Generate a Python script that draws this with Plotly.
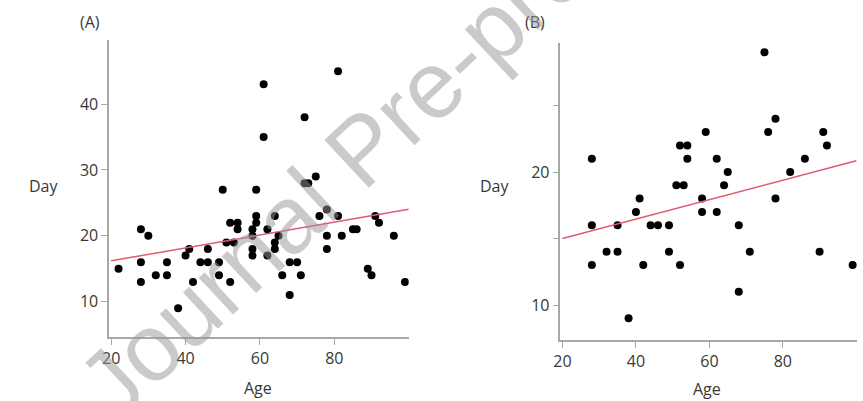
import plotly.graph_objects as go

# Panel (A): age vs. day, all patients
age_a = [22, 28, 30, 28, 28, 32, 35, 35, 38, 40, 41, 42, 44, 46, 46, 49, 49, 50, 51, 53,
         52, 54, 54, 52, 59, 59, 59, 58, 58, 58, 58, 61, 61, 62, 62, 64, 64, 64, 65, 66,
         68, 70, 71, 68, 72, 72, 73, 75, 76, 78, 78, 78, 81, 81, 82, 85, 86, 89, 90, 91,
         92, 96, 99]
day_a = [15, 21, 20, 16, 13, 14, 16, 14, 9, 17, 18, 13, 16, 16, 18, 16, 14, 27, 19, 19,
         22, 22, 21, 13, 27, 23, 22, 21, 20, 18, 17, 43, 35, 21, 17, 23, 19, 18, 20, 14,
         16, 16, 14, 11, 38, 28, 28, 29, 23, 24, 20, 18, 45, 23, 20, 21, 21, 15, 14, 23,
         22, 20, 13]

# Panel (B): age vs. day, subgroup
age_b = [28, 28, 28, 32, 35, 35, 38, 40, 41, 42, 44, 46, 49, 49, 51, 53, 52, 54, 54, 52,
         59, 58, 58, 62, 62, 64, 65, 68, 68, 71, 75, 76, 78, 78, 82, 86, 91, 92, 90, 99]
day_b = [21, 16, 13, 14, 16, 14, 9, 17, 18, 13, 16, 16, 16, 14, 19, 19, 22, 22, 21, 13,
         23, 18, 17, 17, 21, 19, 20, 16, 11, 14, 29, 23, 24, 18, 20, 21, 23, 22, 14, 13]

# Least-squares fit lines (end points)
fit_age_a = [20, 100]
fit_day_a = [16.2, 24.05]
fit_age_b = [20, 100]
fit_day_b = [15.0, 20.85]

# Tick labels
xticks = [20, 40, 60, 80]
yticks_a = [10, 20, 30, 40]
yticks_b = [10, 20]

W, H = 863, 401
FONT = "Open Sans"
TXT = "#383838"
AXIS = "#a8a8a8"
FIT = "#e05a70"

fig = go.Figure()
fig.add_trace(go.Scatter(x=age_a, y=day_a, mode="markers", xaxis="x", yaxis="y",
                         marker=dict(size=8, color="black"), showlegend=False))
fig.add_trace(go.Scatter(x=fit_age_a, y=fit_day_a, mode="lines", xaxis="x", yaxis="y",
                         line=dict(color=FIT, width=1.5), showlegend=False))
fig.add_trace(go.Scatter(x=age_b, y=day_b, mode="markers", xaxis="x2", yaxis="y2",
                         marker=dict(size=8, color="black"), showlegend=False))
fig.add_trace(go.Scatter(x=fit_age_b, y=fit_day_b, mode="lines", xaxis="x2", yaxis="y2",
                         line=dict(color=FIT, width=1.5), showlegend=False))

common = dict(showgrid=False, zeroline=False, showline=True, linecolor=AXIS, linewidth=1.5,
              ticks="outside", ticklen=6, tickwidth=1, tickcolor=AXIS,
              tickfont=dict(family=FONT, size=16, color=TXT))

def px_x(p):
    return p / W

def px_y(p):
    return 1 - p / H

fig.update_layout(
    width=W, height=H, margin=dict(l=0, r=0, t=0, b=0),
    paper_bgcolor="white", plot_bgcolor="white",
    xaxis=dict(domain=[px_x(103), px_x(405)], range=[19.47, 100], tickvals=xticks,
               anchor="y", **common),
    yaxis=dict(domain=[px_y(337), px_y(40)], range=[4.64, 49.73], tickvals=yticks_a,
               anchor="x", **common),
    xaxis2=dict(domain=[px_x(558), px_x(857)], range=[19.46, 100.2], tickvals=xticks,
                anchor="y2", **common),
    yaxis2=dict(domain=[px_y(340), px_y(43)], range=[7.37, 29.7], tickvals=yticks_b,
                anchor="x2",
                minor=dict(tickvals=[15, 25], ticks="outside", ticklen=6, tickcolor=AXIS),
                **common),
)

labels = [
    ("(A)", 84, 22), ("(B)", 532, 22),
    ("Day", 37, 186), ("Day", 492, 186),
    ("Age", 253, 388), ("Age", 706, 389),
]
for text, x, y in labels:
    fig.add_annotation(text=text, x=px_x(x), y=px_y(y), xref="paper", yref="paper",
                       xanchor="center", yanchor="middle", showarrow=False,
                       font=dict(family=FONT, size=16, color=TXT))

# Diagonal preprint watermark over the plots
fig.add_annotation(text="Journal Pre-proof", x=px_x(358), y=px_y(149), xref="paper",
                   yref="paper", xanchor="center", yanchor="middle", showarrow=False,
                   textangle=-43,
                   font=dict(family="Liberation Sans", size=95,
                             color="rgba(150,150,150,0.5)"))

fig.write_html("out.html")
